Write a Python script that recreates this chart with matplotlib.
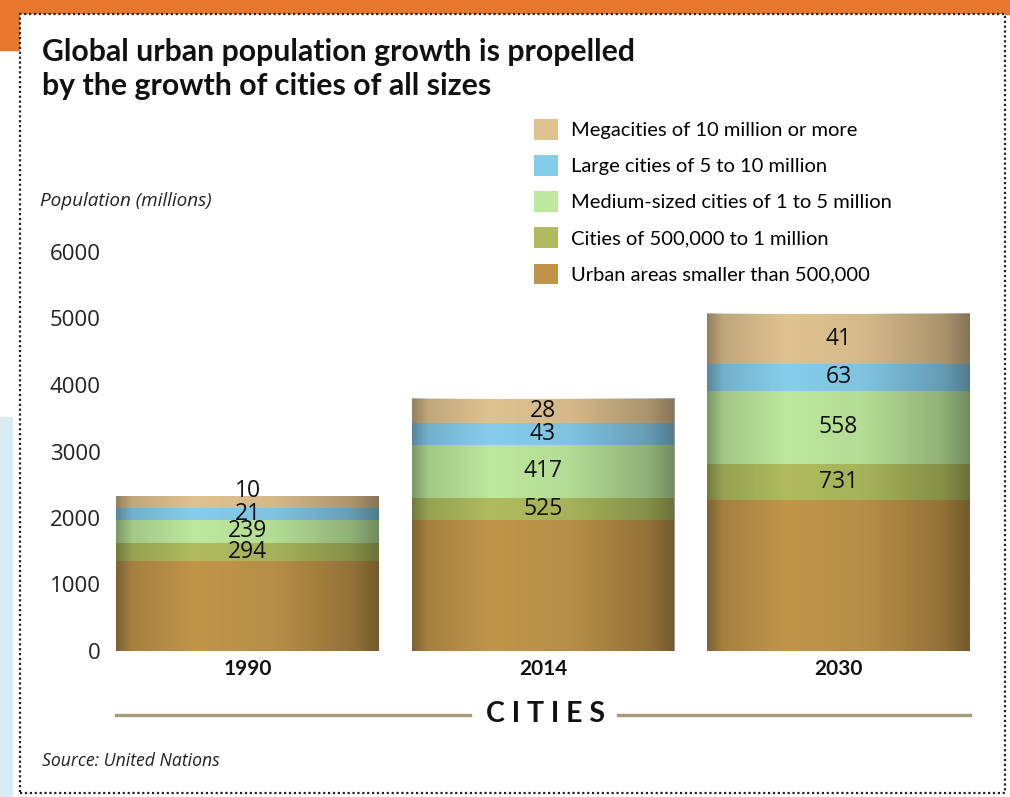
import matplotlib
matplotlib.use("Agg")
import matplotlib.pyplot as plt
import numpy as np
from matplotlib.patches import Rectangle
from matplotlib.lines import Line2D

years = ["1990", "2014", "2030"]
categories = [
    "Urban areas smaller than 500,000",
    "Cities of 500,000 to 1 million",
    "Medium-sized cities of 1 to 5 million",
    "Large cities of 5 to 10 million",
    "Megacities of 10 million or more",
]
# population (millions) per size class, bottom to top
small = [1353, 1970, 2271]
half_million = [271, 331, 541]
medium = [346, 797, 1098]
large = [180, 331, 406]
mega = [180, 361, 752]
# number of cities, printed inside the segments (none for the bottom class)
n_half_million = [294, 525, 731]
n_medium = [239, 417, 558]
n_large = [21, 43, 63]
n_mega = [10, 28, 41]

colors = ["#c0954a", "#afbb5e", "#bde79c", "#86cdeb", "#dfc290"]
yticks = [0, 1000, 2000, 3000, 4000, 5000, 6000]

W, H = 1010, 797
fig = plt.figure(figsize=(W / 100, H / 100), dpi=100)

# page decoration: orange strip at the top, dotted frame
fig.patches.append(Rectangle((0, 1 - 14 / H), 1, 14 / H, transform=fig.transFigure,
                             color="#e8772e", zorder=-3))
fig.patches.append(Rectangle((0, 1 - 50 / H), 20 / W, 50 / H, transform=fig.transFigure,
                             color="#e8772e", zorder=-3))
fig.patches.append(Rectangle((0, 0), 12 / W, 380 / H, transform=fig.transFigure,
                             color="#d8ebf3", zorder=-3))
fig.patches.append(Rectangle((20 / W, 4 / H), 985 / W, 1 - 18 / H, transform=fig.transFigure,
                             facecolor="white", edgecolor="#222222", linestyle=(0, (1, 1.2)),
                             linewidth=1.6, zorder=-2))

ax = fig.add_axes([116 / W, 1 - 651 / H, 854 / W, 399 / H])
ax.set_facecolor("none")

x = np.arange(len(years))
width = 0.89
series = [small, half_million, medium, large, mega]
counts = [None, n_half_million, n_medium, n_large, n_mega]
bottom = np.zeros(len(years))
bars = []
for vals, col, lab, cnt in zip(series, colors, categories, counts):
    b = ax.bar(x, vals, width, bottom=bottom, color=col, label=lab, zorder=2, linewidth=0)
    bars.append(b)
    if cnt is not None:
        for i, (v, c) in enumerate(zip(vals, cnt)):
            dy = 8 if (i == 0 and cnt is n_mega) else 0
            ax.annotate(str(c), (x[i], bottom[i] + v / 2), xytext=(0, dy),
                        textcoords="offset points", ha="center", va="center",
                        fontsize=16.5, family="Open Sans", color="#111111", zorder=5)
    bottom = bottom + np.array(vals)

# cylinder-like shading across each column
t = np.linspace(0, 1, 200)
shade = np.interp(t, [0, 0.06, 0.3, 0.6, 0.9, 1.0], [0.34, 0.14, 0.0, 0.05, 0.24, 0.4])
grad = np.zeros((1, len(t), 4))
grad[..., 3] = shade
for i in range(len(years)):
    ax.imshow(grad, extent=[x[i] - width / 2, x[i] + width / 2, 0, bottom[i]],
              aspect="auto", zorder=3, interpolation="bilinear")

ax.set_xlim(-width / 2, len(years) - 1 + width / 2)
ax.set_ylim(0, 6000)
ax.set_yticks(yticks)
ax.set_yticklabels([str(v) for v in yticks], family="Open Sans", fontsize=16, color="#222222")
ax.set_xticks(x)
ax.set_xticklabels(years, family="Lato", fontweight="bold", fontsize=15, color="#111111")
ax.tick_params(axis="y", length=0, pad=11)
ax.tick_params(axis="x", length=0, pad=6)
for s in ax.spines.values():
    s.set_visible(False)

handles = [bars[k].patches[0] for k in range(4, -1, -1)]
labels = categories[::-1]
fig.legend(handles, labels, loc="upper left", bbox_to_anchor=(534 / W, 1 - 119 / H),
           frameon=False, prop={"family": "Lato", "size": 14.5}, handlelength=1.2,
           handleheight=1.2, handletextpad=0.65, labelspacing=0.77, borderpad=0, borderaxespad=0)

fig.text(42 / W, 1 - 69 / H, "Global urban population growth is propelled\nby the growth of cities of all sizes",
         family="Lato", fontweight="bold", fontsize=21.8, va="center", ha="left",
         linespacing=1.3, color="#111111")
fig.text(40 / W, 1 - 201 / H, "Population (millions)", family="Open Sans", style="italic",
         fontsize=13.6, va="center", ha="left", color="#222222")
fig.text(545 / W, 1 - 714 / H, "C I T I E S", family="Lato", fontweight="bold",
         fontsize=20.5, va="center", ha="center", color="#111111")
fig.add_artist(Line2D([116 / W, 470 / W], [1 - 715 / H] * 2, transform=fig.transFigure,
                      color="#a39b7b", linewidth=2.4))
fig.add_artist(Line2D([618 / W, 970 / W], [1 - 715 / H] * 2, transform=fig.transFigure,
                      color="#a39b7b", linewidth=2.4))
fig.text(42 / W, 1 - 761 / H, "Source: United Nations", family="Open Sans", style="italic",
         fontsize=12.7, va="center", ha="left", color="#222222")

fig.savefig("out.png", dpi=100)
